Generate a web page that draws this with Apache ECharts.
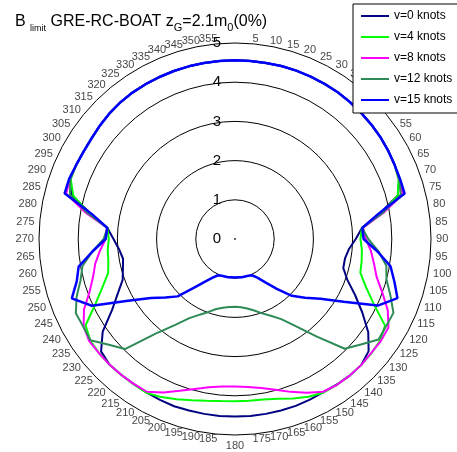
<!DOCTYPE html>
<html>
<head>
<meta charset="utf-8">
<script src="https://cdn.jsdelivr.net/npm/echarts@6/dist/echarts.min.js"></script>
<style>
  html, body { margin: 0; padding: 0; background: #fff; }
  #chart { width: 457px; height: 452px; }
</style>
</head>
<body>
<div id="chart"></div>
<script>
// Heading angles in degrees (0 = bow, clockwise)
const angles = [0,5,10,15,20,25,30,35,40,45,50,55,60,65,70,75,80,85,90,95,100,105,110,115,120,125,130,135,140,145,150,155,160,165,170,175,180,185,190,195,200,205,210,215,220,225,230,235,240,245,250,255,260,265,270,275,280,285,290,295,300,305,310,315,320,325,330,335,340,345,350,355];

// Limiting wave height per heading, one list per ship speed
const v0knots = [4.56,4.56,4.56,4.57,4.57,4.57,4.57,4.57,4.56,4.55,4.54,4.53,4.51,4.49,4.46,4.30,3.75,3.25,3.08,2.92,2.85,2.86,3.05,3.38,3.75,4.15,4.45,4.55,4.55,4.53,4.51,4.52,4.53,4.53,4.53,4.53,4.53,4.53,4.53,4.53,4.54,4.53,4.52,4.51,4.52,4.53,4.46,4.12,3.62,3.30,3.05,2.96,2.90,2.97,3.10,3.27,3.75,4.30,4.48,4.47,4.46,4.47,4.50,4.53,4.55,4.56,4.56,4.56,4.56,4.56,4.56,4.56];
const v4knots = [4.56,4.56,4.56,4.57,4.57,4.57,4.57,4.57,4.56,4.55,4.54,4.53,4.51,4.49,4.44,4.30,3.80,3.25,3.20,3.25,3.28,3.31,3.55,3.90,4.42,4.52,4.54,4.55,4.55,4.54,4.52,4.44,4.33,4.22,4.16,4.14,4.14,4.15,4.19,4.26,4.35,4.45,4.53,4.52,4.52,4.53,4.53,4.51,4.40,3.93,3.60,3.35,3.28,3.26,3.22,3.27,3.78,4.27,4.46,4.47,4.46,4.47,4.50,4.53,4.55,4.56,4.56,4.56,4.56,4.56,4.56,4.56];
const v8knots = [4.56,4.56,4.56,4.57,4.57,4.57,4.57,4.57,4.56,4.55,4.54,4.53,4.51,4.49,4.46,4.43,3.85,3.28,3.34,3.48,3.60,3.74,4.00,4.30,4.52,4.54,4.53,4.55,4.55,4.54,4.50,4.33,4.15,3.98,3.86,3.79,3.76,3.78,3.84,3.96,4.12,4.32,4.50,4.51,4.52,4.53,4.53,4.54,4.46,4.25,3.95,3.75,3.62,3.46,3.30,3.28,3.87,4.46,4.48,4.47,4.46,4.47,4.50,4.53,4.55,4.56,4.56,4.56,4.56,4.56,4.56,4.56];
const v12knots = [4.56,4.56,4.56,4.57,4.57,4.57,4.57,4.57,4.56,4.55,4.54,4.53,4.51,4.49,4.46,4.38,3.82,3.26,3.40,3.68,3.92,4.00,4.22,4.46,4.45,4.47,4.19,3.96,3.25,2.72,2.36,2.16,2.02,1.89,1.80,1.75,1.73,1.74,1.78,1.85,1.98,2.13,2.33,2.68,3.15,3.97,4.20,4.50,4.47,4.48,4.30,4.08,3.95,3.65,3.35,3.27,3.82,4.36,4.47,4.47,4.46,4.47,4.50,4.53,4.55,4.56,4.56,4.56,4.56,4.56,4.56,4.56];
const v15knots = [4.56,4.56,4.56,4.57,4.57,4.57,4.57,4.57,4.56,4.55,4.54,4.53,4.51,4.49,4.48,4.48,3.72,3.26,3.28,3.65,4.03,4.21,4.41,4.02,3.20,2.66,2.33,2.05,1.66,1.35,1.14,1.02,1.00,0.99,0.99,0.98,0.98,0.98,0.99,0.99,1.00,1.02,1.14,1.33,1.62,2.07,2.32,2.62,3.15,4.03,4.43,4.18,4.05,3.65,3.30,3.27,3.72,4.50,4.50,4.47,4.46,4.47,4.50,4.53,4.55,4.56,4.56,4.56,4.56,4.56,4.56,4.56];

const seriesNames = ['v=0 knots', 'v=4 knots', 'v=8 knots', 'v=12 knots', 'v=15 knots'];
const seriesValues = [v0knots, v4knots, v8knots, v12knots, v15knots];
const seriesColors = ['#000080', '#00ff00', '#ff00ff', '#2e8b57', '#0000ff'];

// Tick labels around the rim and along the radius
const angleTicks = [5,10,15,20,25,30,35,40,45,50,55,60,65,70,75,80,85,90,95,100,105,110,115,120,125,130,135,140,145,150,155,160,165,170,175,180,185,190,195,200,205,210,215,220,225,230,235,240,245,250,255,260,265,270,275,280,285,290,295,300,305,310,315,320,325,330,335,340,345,350,355];
const radiusTicks = [0, 1, 2, 3, 4, 5];

const FONT = '"Liberation Sans", Arial, sans-serif';
const RIM_LABEL_RADIUS = 5.13;   // just outside the outer ring

// Closed polar polyline: [radius, angle] pairs, last point repeats the first at 360
function closedRing(values) {
  const pts = angles.map((a, i) => [values[i], a]);
  pts.push([values[0], 360]);
  return pts;
}

const lineSeries = seriesNames.map((name, i) => ({
  name: name,
  type: 'line',
  coordinateSystem: 'polar',
  symbol: 'none',
  smooth: false,
  animation: false,
  color: seriesColors[i],
  lineStyle: { color: seriesColors[i], width: i === 4 ? 2.5 : 2 },
  data: closedRing(seriesValues[i]),
  z: 3 + i
}));

const rimLabels = {
  name: 'rim',
  type: 'scatter',
  coordinateSystem: 'polar',
  clip: false,
  silent: true,
  animation: false,
  symbolSize: 1,
  itemStyle: { color: 'rgba(0,0,0,0)' },
  label: {
    show: true,
    position: 'inside',
    formatter: p => String(p.value[1]),
    fontFamily: FONT,
    fontSize: 11,
    color: '#111'
  },
  labelLayout: { hideOverlap: false },
  data: angleTicks.map(a => ({
    value: [RIM_LABEL_RADIUS, a],
    label: a === 180
      ? { align: 'center', verticalAlign: 'top', offset: [0, 3] }
      : { align: a < 180 ? 'left' : 'right', verticalAlign: 'middle' }
  })),
  z: 2
};

const centreDot = {
  name: 'centre',
  type: 'scatter',
  coordinateSystem: 'polar',
  silent: true,
  animation: false,
  symbolSize: 2,
  itemStyle: { color: '#000' },
  data: [[0, 0]]
};

const titleText = { fontFamily: FONT, color: '#000', fontWeight: 'normal', lineHeight: 22 };

const chart = echarts.init(document.getElementById('chart'), null, { renderer: 'canvas' });
chart.setOption({
  animation: false,
  backgroundColor: '#fff',
  title: {
    left: 10,
    top: 6,
    text: '{n|B }{s|limit}{n| GRE-RC-BOAT z}{t|G}{n|=2.1m}{t|0}{n|(0%)}',
    textStyle: {
      fontWeight: 'normal',
      rich: {
        n: Object.assign({ fontSize: 16, verticalAlign: 'middle' }, titleText),
        s: Object.assign({ fontSize: 9, verticalAlign: 'bottom' }, titleText),
        t: Object.assign({ fontSize: 11, verticalAlign: 'bottom' }, titleText)
      }
    }
  },
  legend: {
    data: seriesNames,
    orient: 'vertical',
    left: 353,
    top: 4,
    icon: 'rect',
    backgroundColor: '#fff',
    borderColor: '#000',
    borderWidth: 1,
    borderRadius: 0,
    padding: [5, 20, 6, 8],
    itemWidth: 28,
    itemHeight: 2,
    itemGap: 7,
    textStyle: { fontFamily: FONT, fontSize: 12, color: '#000', lineHeight: 14 },
    z: 10
  },
  polar: {
    center: [235, 239],
    radius: 196
  },
  angleAxis: {
    type: 'value',
    min: 0,
    max: 360,
    interval: 5,
    startAngle: 90,
    clockwise: true,
    axisLine: { show: false },
    axisTick: { show: false },
    axisLabel: { show: false },
    splitLine: { show: false }
  },
  radiusAxis: {
    type: 'value',
    min: radiusTicks[0],
    max: radiusTicks[radiusTicks.length - 1],
    interval: 1,
    axisLine: { show: false },
    axisTick: { show: false },
    axisLabel: { fontFamily: FONT, fontSize: 15, color: '#000', margin: 14 },
    splitLine: { show: true, lineStyle: { color: '#000', width: 1 } }
  },
  series: [...lineSeries, rimLabels, centreDot]
});
</script>
</body>
</html>
